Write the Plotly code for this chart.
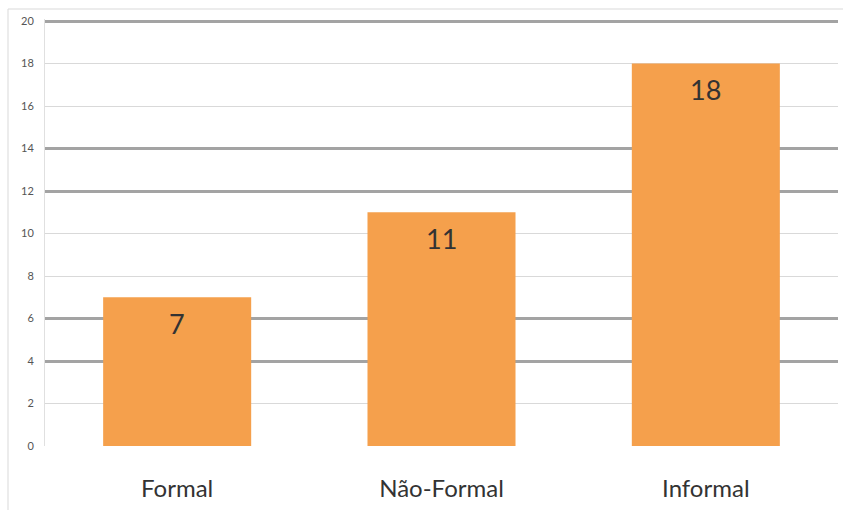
import plotly.graph_objects as go

categories = ["Formal", "Não-Formal", "Informal"]
values = [7, 11, 18]
y_ticks = [0, 2, 4, 6, 8, 10, 12, 14, 16, 18, 20]
dark_grid_ticks = [4, 6, 12, 14, 20]

FONT = "Lato, 'Open Sans', sans-serif"
Y_RANGE = [0, 20.1]

fig = go.Figure()
fig.add_trace(go.Bar(
    x=categories, y=values,
    marker=dict(color="#F5A04C", line=dict(width=0)),
    width=0.56,
    hoverinfo="skip",
))
# overlay axis only used to draw the darker gridlines
fig.add_trace(go.Scatter(x=categories, y=[None]*3, yaxis="y2", showlegend=False, hoverinfo="skip"))

annotations = [
    dict(x=c, y=v, xref="x", yref="y", text=str(v), showarrow=False,
         yanchor="middle", yshift=-26,
         font=dict(size=27, color="#333333", family=FONT))
    for c, v in zip(categories, values)
]

fig.update_layout(
    width=843, height=510,
    margin=dict(l=45, r=5, t=19, b=64),
    paper_bgcolor="white", plot_bgcolor="white",
    showlegend=False,
    font=dict(family=FONT),
    annotations=annotations,
    xaxis=dict(
        type="category", range=[-0.5, 2.5],
        showgrid=False, showline=False, zeroline=False,
        ticks="", ticklabelstandoff=26,
        tickfont=dict(size=24, color="#333333", family=FONT),
    ),
    yaxis=dict(
        range=Y_RANGE, tickvals=y_ticks,
        showgrid=True, gridcolor="#d9d9d9", gridwidth=1,
        zeroline=False, showline=True, linecolor="#e0e0e0", linewidth=1,
        ticks="", ticklabelstandoff=8,
        tickfont=dict(size=11, color="#555555", family=FONT),
    ),
    yaxis2=dict(
        overlaying="y", range=Y_RANGE, tickvals=dark_grid_ticks,
        showgrid=True, gridcolor="#a3a3a3", gridwidth=2.5,
        showticklabels=False, zeroline=False, showline=False, side="right",
    ),
    shapes=[dict(
        type="rect", xref="paper", yref="paper",
        x0=(8 - 45) / 793, x1=1.2, y0=-0.3, y1=1 + 10 / 427,
        line=dict(color="#d9d9d9", width=1), fillcolor="rgba(0,0,0,0)", layer="below",
    )],
)

fig.write_html("out.html")
